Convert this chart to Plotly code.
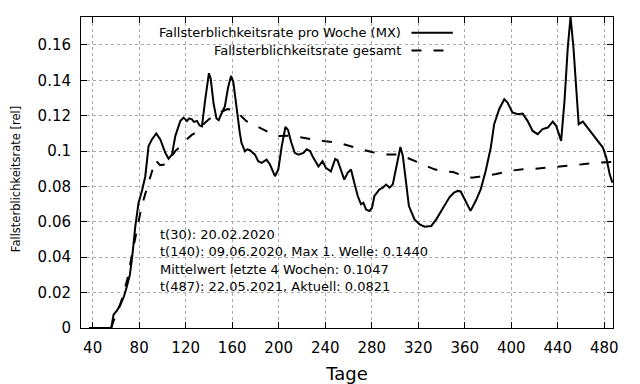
import plotly.graph_objects as go

# --- data ---
days_weekly = [37, 56, 58, 61, 64, 67, 69.5, 72, 74, 76.7, 79.5, 82.4, 85.3, 88.1, 91, 94.7, 98.2,
               102.5, 105.3, 108.2, 111.1, 115.4, 118.2, 121.1, 123, 125.4, 127, 129.7, 132, 134,
               136.8, 140, 141.5, 144, 146.5, 148.5, 150, 153.7, 156.5, 159, 161, 163.7, 166.6,
               168, 171, 173, 175.3, 179.6, 182.4, 185.3, 189.6, 192.5, 196.8, 199.7, 202.6,
               205.8, 208, 210.9, 213.8, 217, 221.3, 224, 227, 229, 231.4, 234.2, 237.7, 240.6,
               244.9, 248.6, 250.6, 253.5, 256.4, 259.3, 262.2, 265, 268, 270.8, 272.8, 275.1,
               278, 280.3, 282.3, 286.6, 289.5, 292.4, 295.3, 298.1, 301, 303, 304.7, 306.8,
               309.6, 312, 316.8, 321.2, 325.5, 331.2, 335.5, 339.9, 343.6, 347, 350.8, 354,
               356.5, 360.9, 365, 369.5, 373.8, 378, 382.4, 385.3, 389.6, 394, 396.8, 401,
               405.5, 409.8, 414, 418.4, 422.7, 427, 431.4, 435.7, 438.6, 442.9, 445.8, 448.6,
               451, 453.5, 455.8, 458, 461.6, 464.5, 468.8, 473, 476, 478.8, 481.7, 484.6, 487]
rate_weekly = [0, 0, 0.0075, 0.010, 0.0132, 0.018, 0.0236, 0.030, 0.040, 0.0575, 0.0708, 0.0774,
               0.0858, 0.1028, 0.1066, 0.110, 0.1066, 0.099, 0.0957, 0.098, 0.1085, 0.117,
               0.1189, 0.117, 0.1185, 0.118, 0.1165, 0.117, 0.1145, 0.114, 0.129, 0.144, 0.141,
               0.127, 0.1185, 0.1175, 0.120, 0.1253, 0.136, 0.1425, 0.139, 0.1234, 0.1102,
               0.1047, 0.0999, 0.101, 0.1005, 0.098, 0.0943, 0.0933, 0.0952, 0.0924, 0.0858,
               0.0896, 0.1027, 0.1136, 0.112, 0.1047, 0.099, 0.098, 0.099, 0.101, 0.100, 0.0972,
               0.0943, 0.0913, 0.0943, 0.0905, 0.0885, 0.0956, 0.0948, 0.0896, 0.0839, 0.0877,
               0.0896, 0.0821, 0.0746, 0.0699, 0.0708, 0.067, 0.0661, 0.068, 0.0746, 0.0783,
               0.0793, 0.0811, 0.0793, 0.0811, 0.0896, 0.0971, 0.1023, 0.0971, 0.0821, 0.0689,
               0.0614, 0.0586, 0.0573, 0.0577, 0.0614, 0.0661, 0.070, 0.074, 0.0766, 0.0775,
               0.0772, 0.0719, 0.0662, 0.0719, 0.0785, 0.0888, 0.102, 0.1152, 0.1237, 0.1293,
               0.1274, 0.1218, 0.1208, 0.1212, 0.1171, 0.1114, 0.1096, 0.1124, 0.1133, 0.1167,
               0.1143, 0.1058, 0.1284, 0.1585, 0.1758, 0.1585, 0.134, 0.1152, 0.1167, 0.1143,
               0.1105, 0.1067, 0.1048, 0.102, 0.0964, 0.087, 0.0821]

days_total = [37, 56, 58, 62, 66, 70, 74, 77, 81, 84, 87, 90, 94, 98, 103, 107, 111, 116, 120,
              125, 130, 135, 140, 145, 150, 156, 162, 166, 172, 180, 190, 198, 210, 218, 230,
              240, 251, 260, 272, 281, 292, 304, 314, 322, 334, 344, 350, 357, 366, 372, 378,
              387, 398, 410, 420, 431, 443, 455, 461, 474, 480, 487]
rate_total = [0, 0, 0.004, 0.010, 0.018, 0.028, 0.042, 0.052, 0.065, 0.073, 0.080, 0.086, 0.095,
              0.092, 0.0925, 0.096, 0.100, 0.103, 0.106, 0.109, 0.111, 0.115, 0.118, 0.120,
              0.122, 0.1238, 0.1230, 0.121, 0.117, 0.1144, 0.111, 0.1085, 0.1087, 0.1078,
              0.1068, 0.1055, 0.1048, 0.103, 0.1008, 0.0994, 0.0981, 0.098, 0.0952, 0.093,
              0.0897, 0.0883, 0.0882, 0.0864, 0.085, 0.0855, 0.086, 0.087, 0.0888, 0.0897,
              0.090, 0.0906, 0.0916, 0.092, 0.0925, 0.0935, 0.0937, 0.0938]

series_names = ["Fallsterblichkeitsrate pro Woche (MX)", "Fallsterblichkeitsrate gesamt"]
x_ticks = [40, 80, 120, 160, 200, 240, 280, 320, 360, 400, 440, 480]
y_ticks = [0, 0.02, 0.04, 0.06, 0.08, 0.1, 0.12, 0.14, 0.16]
y_tick_labels = ["0", "0.02", "0.04", "0.06", "0.08", "0.1", "0.12", "0.14", "0.16"]
info_lines = ["t(30): 20.02.2020",
              "t(140): 09.06.2020, Max 1. Welle: 0.1440",
              "Mittelwert letzte 4 Wochen: 0.1047",
              "t(487): 22.05.2021, Aktuell: 0.0821"]
x_title = "Tage"
y_title = "Fallsterblichkeitsrate [rel]"

FONT = "DejaVu Sans"
DASH = "10px,12px"

fig = go.Figure()
fig.add_trace(go.Scatter(x=days_total, y=rate_total, mode="lines", name=series_names[1],
                         line=dict(color="black", width=2, dash=DASH), showlegend=False))
fig.add_trace(go.Scatter(x=days_weekly, y=rate_weekly, mode="lines", name=series_names[0],
                         line=dict(color="black", width=2), showlegend=False))

# Info text block
info_y = [0.302, 0.2457, 0.1897, 0.135]
for txt, yy in zip(info_lines, info_y):
    fig.add_annotation(text=txt, xref="paper", yref="paper", x=0.1447, y=yy,
                       xanchor="left", yanchor="middle", showarrow=False,
                       font=dict(family=FONT, size=13, color="black"))

# Gnuplot-style key (text right, sample line on the right)
key_y = [0.949, 0.892]
key_dash = ["solid", DASH]
for name, yy, dsh in zip(series_names, key_y, key_dash):
    fig.add_annotation(text=name, xref="paper", yref="paper", x=0.6053, y=yy,
                       xanchor="right", yanchor="middle", showarrow=False,
                       font=dict(family=FONT, size=13, color="black"))
    fig.add_shape(type="line", xref="paper", yref="paper", x0=0.6212, x1=0.6989,
                  y0=yy, y1=yy, line=dict(color="black", width=2, dash=dsh))

# Y-axis title (gnuplot places it slightly below the plot centre)
fig.add_annotation(text=y_title, xref="paper", yref="paper", x=-0.122, y=0.479,
                   xanchor="center", yanchor="middle", textangle=-90, showarrow=False,
                   font=dict(family=FONT, size=11.5, color="black"))

axis_common = dict(showline=True, linecolor="black", linewidth=1, mirror="ticks",
                   ticks="inside", ticklen=6, tickcolor="black", tickwidth=1,
                   showgrid=True, gridcolor="#a8a8a8", griddash="dot", gridwidth=1,
                   zeroline=False, automargin=False,
                   tickfont=dict(family=FONT, size=15, color="black"))

fig.update_layout(
    width=640, height=384,
    margin=dict(l=81, r=27, t=17, b=56),
    paper_bgcolor="white", plot_bgcolor="white",
    font=dict(family=FONT, color="black"),
    xaxis=dict(range=[30, 487.5], tickvals=x_ticks, ticklabelstandoff=6,
               title=dict(text=x_title, font=dict(family=FONT, size=18), standoff=14),
               **axis_common),
    yaxis=dict(range=[0, 0.1758], tickvals=y_ticks, ticktext=y_tick_labels,
               ticklabelstandoff=6, **axis_common),
)

fig.write_html("out.html", config={"displayModeBar": False},
               post_script="document.body.style.margin='0';")
